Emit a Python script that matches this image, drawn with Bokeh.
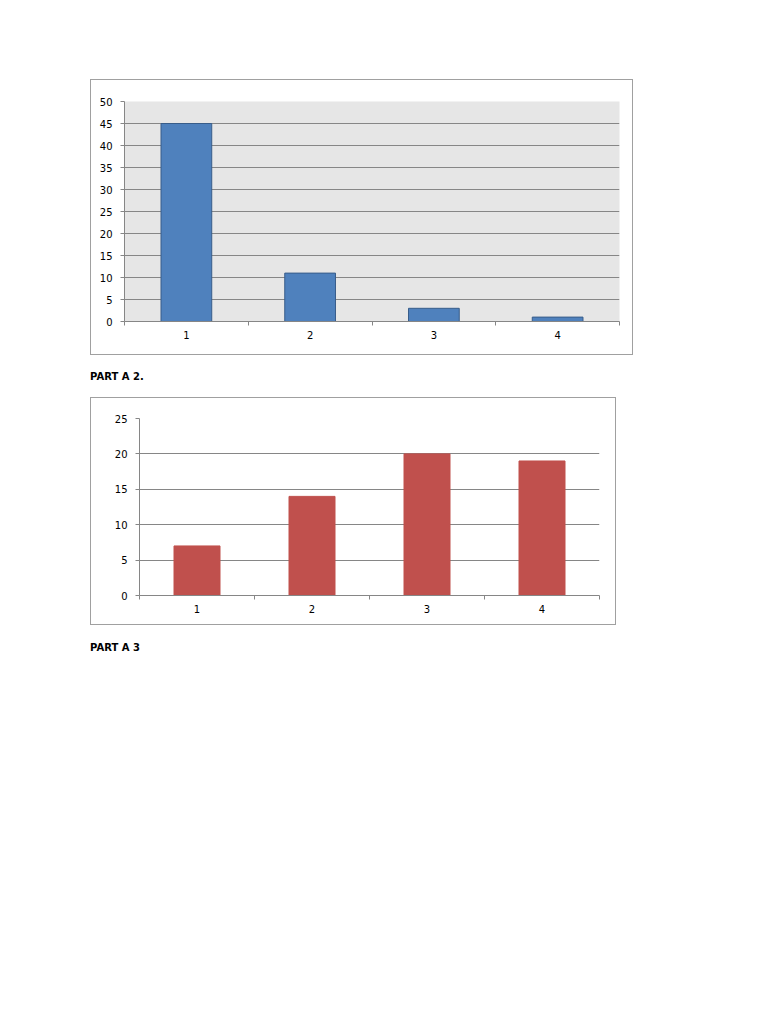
from bokeh.plotting import figure
from bokeh.models import Range1d, FixedTicker, Div, Spacer
from bokeh.layouts import column, row
from bokeh.embed import file_html
from bokeh.resources import INLINE

# ---- data ----
categories = ["1", "2", "3", "4"]
part_a1_values = [45, 11, 3, 1]
part_a2_values = [7, 14, 20, 19]
part_a1_yticks = [0, 5, 10, 15, 20, 25, 30, 35, 40, 45, 50]
part_a2_yticks = [0, 5, 10, 15, 20, 25]
headings = ["PART A 2.", "PART A 3"]

FONT = "DejaVu Sans"


def make_chart(values, yticks, width, height, borders, bg, fill, line, bar_width):
    n = len(categories)
    xs = [i + 1 for i in range(n)]
    p = figure(width=width, height=height,
               x_range=Range1d(0.5, n + 0.5), y_range=Range1d(0, yticks[-1]),
               output_backend="svg", toolbar_location=None,
               min_border_left=borders[0], min_border_right=borders[1],
               min_border_top=borders[2], min_border_bottom=borders[3])
    p.vbar(x=xs, top=values, bottom=0, width=bar_width,
           fill_color=fill, line_color=line, line_width=1)
    p.background_fill_color = bg
    p.border_fill_color = "white"
    p.outline_line_color = None
    p.xgrid.visible = False
    p.ygrid.grid_line_color = "#868686"
    p.ygrid.grid_line_width = 1

    p.xaxis.ticker = FixedTicker(ticks=xs, minor_ticks=[x - 0.5 for x in xs] + [n + 0.5])
    p.xaxis.major_label_overrides = {x: c for x, c in zip(xs, categories)}
    p.xaxis.major_tick_out = 0
    p.xaxis.major_tick_in = 0
    p.xaxis.minor_tick_out = 4
    p.xaxis.minor_tick_in = 0
    p.xaxis.minor_tick_line_color = "#868686"
    p.xaxis.major_label_standoff = 5

    p.yaxis.ticker = FixedTicker(ticks=yticks)
    p.yaxis.major_tick_out = 4
    p.yaxis.major_tick_in = 0
    p.yaxis.minor_tick_out = 0
    p.yaxis.minor_tick_in = 0
    p.yaxis.major_label_standoff = 8

    for ax in (p.xaxis[0], p.yaxis[0]):
        ax.axis_line_color = "#868686"
        ax.major_tick_line_color = "#868686"
        ax.major_label_text_font = FONT
        ax.major_label_text_font_size = "10px"
        ax.major_label_text_color = "#000000"
    p.styles = {"border": "1px solid #a0a0a0"}
    return p


p1 = make_chart(part_a1_values, part_a1_yticks, 543, 276, (33, 15, 21, 35),
                "#e6e6e6", "#4f81bd", "#385d8a", 0.41)
p2 = make_chart(part_a2_values, part_a2_yticks, 526, 228, (48, 18, 20, 31),
                "white", "#c0504d", "#c0504d", 0.4)


def heading(text, h, pad):
    return Div(text=f'<div style="font-family:\'{FONT}\';font-weight:bold;font-size:10px;'
                    f'line-height:12px;padding-top:{pad}px;color:#000">{text}</div>',
               width=300, height=h)


layout = column(
    Spacer(height=79),
    row(Spacer(width=90), p1),
    row(Spacer(width=85), heading(headings[0], 32, 11)),
    row(Spacer(width=90), p2),
    row(Spacer(width=85), heading(headings[1], 40, 12)),
)

open("out.html", "w").write(file_html(layout, INLINE))
